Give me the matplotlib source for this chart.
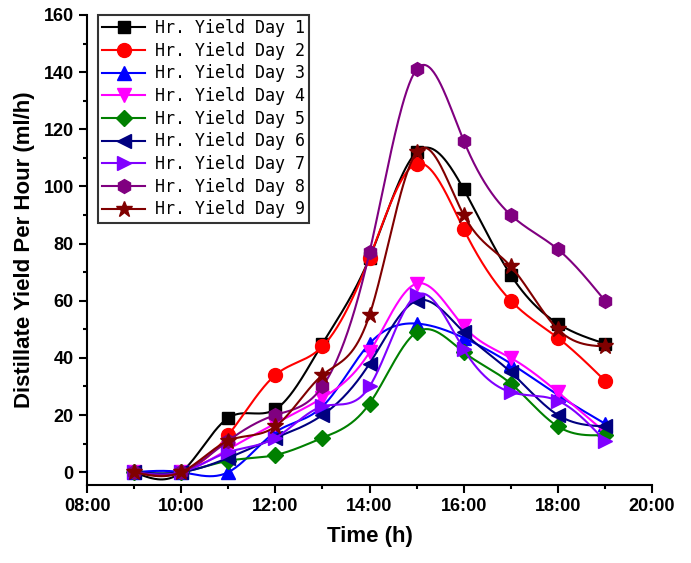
import numpy as np
import matplotlib.pyplot as plt
from matplotlib.ticker import MultipleLocator, FuncFormatter

hours = [9, 10, 11, 12, 13, 14, 15, 16, 17, 18, 19]

day1 = [0, 0, 19, 22, 45, 75, 112, 99, 69, 52, 45]
day2 = [0, 0, 13, 34, 44, 75, 108, 85, 60, 47, 32]
day3 = [0, 0, 0, 14, 23, 45, 52, 47, 38, 27, 17]
day4 = [0, 0, 8, 17, 26, 42, 66, 51, 40, 28, 14]
day5 = [0, 0, 4, 6, 12, 24, 49, 42, 31, 16, 13]
day6 = [0, 0, 5, 12, 20, 38, 60, 49, 35, 20, 16]
day7 = [0, 0, 7, 12, 23, 30, 62, 43, 28, 25, 11]
day8 = [0, 0, 11, 20, 30, 77, 141, 116, 90, 78, 60]
day9 = [0, 0, 11, 16, 34, 55, 112, 90, 72, 50, 44]

series = [day1, day2, day3, day4, day5, day6, day7, day8, day9]
labels = ["Hr. Yield Day %d" % i for i in range(1, 10)]
colors = ["black", "red", "blue", "#FF00FF", "#008000", "#000080",
          "#8000FF", "#800080", "#800000"]
markers = ["s", "o", "^", "v", "D", "<", ">", "h", "*"]
msizes = [9, 10, 10, 10, 8, 10, 10, 10, 12]


def spline(x, y, n=400):
    # natural cubic spline, just for the smooth connecting line
    x = np.asarray(x, float)
    y = np.asarray(y, float)
    k = len(x)
    h = np.diff(x)
    A = np.zeros((k, k))
    b = np.zeros(k)
    A[0, 0] = A[-1, -1] = 1
    for i in range(1, k - 1):
        A[i, i - 1] = h[i - 1]
        A[i, i] = 2 * (h[i - 1] + h[i])
        A[i, i + 1] = h[i]
        b[i] = 6 * ((y[i + 1] - y[i]) / h[i] - (y[i] - y[i - 1]) / h[i - 1])
    M = np.linalg.solve(A, b)
    xs = np.linspace(x[0], x[-1], n)
    idx = np.clip(np.searchsorted(x, xs) - 1, 0, k - 2)
    x0, x1 = x[idx], x[idx + 1]
    hh = x1 - x0
    t0, t1 = x1 - xs, xs - x0
    ys = (M[idx] * t0 ** 3 + M[idx + 1] * t1 ** 3) / (6 * hh) \
        + (y[idx] / hh - M[idx] * hh / 6) * t0 \
        + (y[idx + 1] / hh - M[idx + 1] * hh / 6) * t1
    return xs, ys


plt.rcParams['font.family'] = ['Liberation Sans', 'DejaVu Sans']

fig = plt.figure(figsize=(6.91, 5.63), dpi=100)
ax = fig.add_axes([0.126, 0.1385, 0.8176, 0.8349])

for y, lab, c, m, ms in zip(series, labels, colors, markers, msizes):
    xs, ys = spline(hours, y)
    ax.plot(xs, ys, color=c, lw=1.5)
    ax.plot(hours, y, ls="none", marker=m, ms=ms, color=c, mec=c)
    ax.plot([], [], color=c, lw=1.5, marker=m, ms=ms, mec=c, label=lab)

ax.set_xlim(8, 20)
ax.set_ylim(-4.5, 160)
ax.xaxis.set_major_locator(MultipleLocator(2))
ax.xaxis.set_minor_locator(MultipleLocator(1))
ax.yaxis.set_major_locator(MultipleLocator(20))
ax.yaxis.set_minor_locator(MultipleLocator(10))
ax.xaxis.set_major_formatter(FuncFormatter(lambda v, p: "%02d:00" % int(v)))

for s in ["top", "right"]:
    ax.spines[s].set_visible(False)
for s in ["left", "bottom"]:
    ax.spines[s].set_linewidth(1.5)

ax.tick_params(which="major", length=6, width=1.5, direction="out", labelsize=13)
ax.tick_params(which="minor", length=3, width=1.5, direction="out")
for t in ax.get_xticklabels() + ax.get_yticklabels():
    t.set_fontweight("bold")

ax.set_xlabel("Time (h)", fontsize=16, fontweight="bold", labelpad=8)
ax.set_ylabel("Distillate Yield Per Hour (ml/h)", fontsize=16, fontweight="bold", labelpad=6)

leg = ax.legend(loc="upper left", bbox_to_anchor=(0.019, 1.0), borderaxespad=0,
                frameon=True, fancybox=False, edgecolor="black", borderpad=0.25,
                labelspacing=0.28, handlelength=2.6, handletextpad=0.6,
                prop={"family": "DejaVu Sans Mono", "size": 12})
leg.get_frame().set_linewidth(1.5)

plt.savefig("out.png", dpi=100)
